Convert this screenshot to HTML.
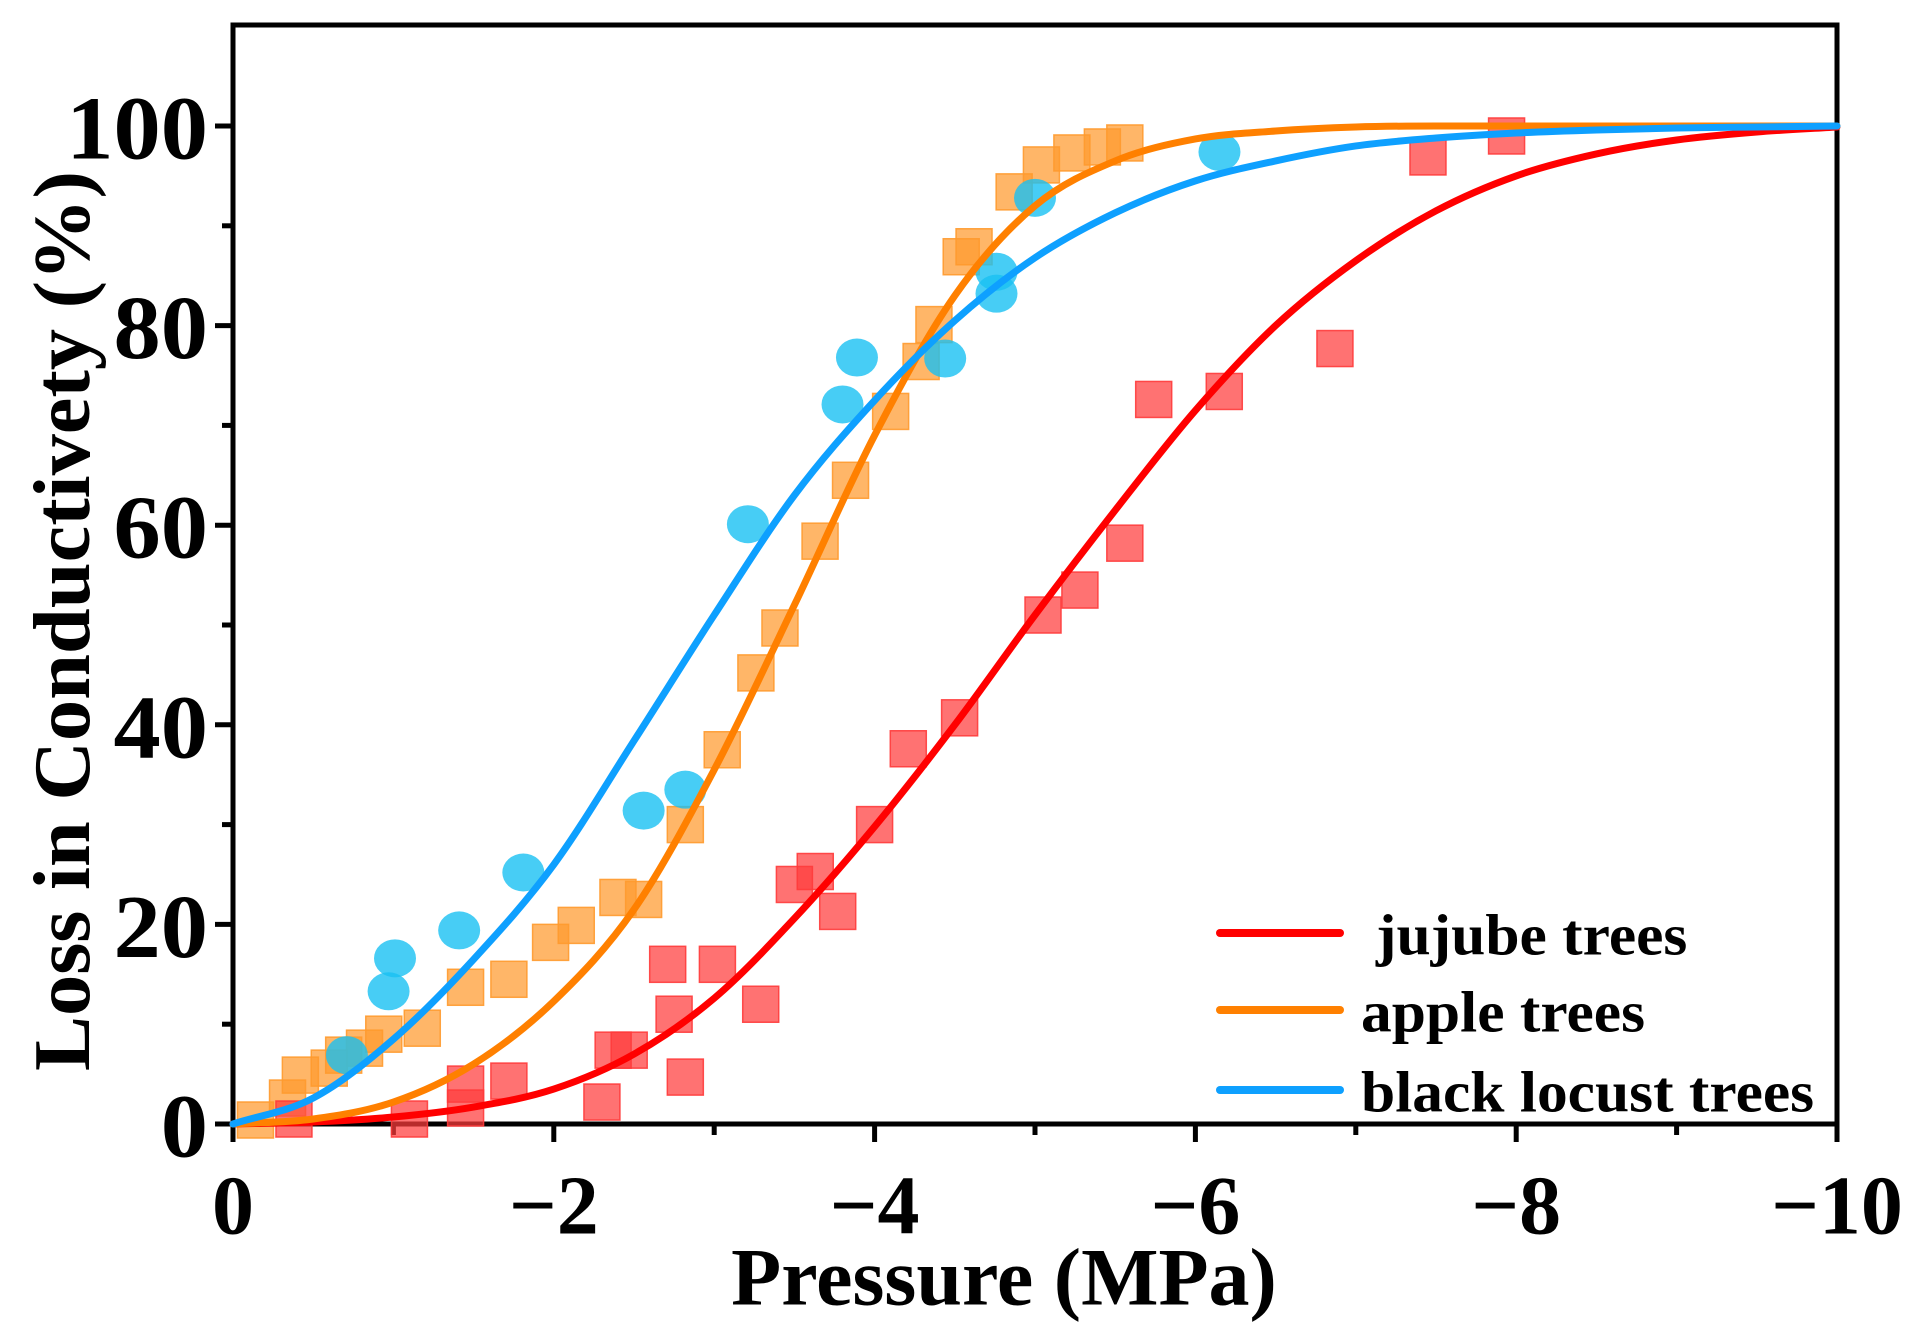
<!DOCTYPE html>
<html><head><meta charset="utf-8"><style>
html,body{margin:0;padding:0;background:#fff;}
svg{display:block;}
text{font-family:"Liberation Serif",serif;font-weight:bold;fill:#000;}
</style></head><body>
<svg id="chart" width="1920" height="1329" viewBox="0 0 1920 1329" xmlns="http://www.w3.org/2000/svg">
<g id="plot"></g>
</svg>
<script>
// ---- data ----
const xTicks = [0, -2, -4, -6, -8, -10];
const yTicks = [0, 20, 40, 60, 80, 100];
const seriesNames = ["jujube trees", "apple trees", "black locust trees"];

const jujubeX = [-0.38,-1.1,-1.45,-1.45,-1.72,-2.3,-2.37,-2.47,-2.71,-2.75,-2.82,-3.02,-3.29,-3.5,-3.63,-3.77,-4.0,-4.21,-4.53,-5.05,-5.28,-5.56,-5.74,-6.18,-6.87,-7.45,-7.94];
const jujubeY = [0.5,0.5,4,1.6,4.3,2.2,7.4,7.4,16,11,4.7,16,12,24,25.3,21.3,30,37.6,40.7,51,53.5,58.2,72.6,73.4,77.7,96.9,99];

const appleX = [-0.14,-0.34,-0.42,-0.6,-0.69,-0.82,-0.94,-1.18,-1.45,-1.72,-1.98,-2.14,-2.4,-2.56,-2.82,-3.05,-3.26,-3.41,-3.66,-3.85,-4.1,-4.29,-4.37,-4.54,-4.62,-4.87,-5.04,-5.23,-5.42,-5.56];
const appleY = [0.4,2.6,4.9,5.6,6.9,7.6,9,9.6,13.7,14.5,18.2,19.9,22.7,22.5,30,37.5,45.2,49.7,58.4,64.5,71.4,76.4,80.1,86.9,87.9,93.4,96.1,97.3,97.9,98.3];

const locustX = [-0.71,-0.97,-1.01,-1.41,-1.81,-2.56,-2.82,-3.21,-3.8,-3.89,-4.44,-4.76,-4.76,-5.0,-6.15];
const locustY = [6.9,13.3,16.6,19.4,25.2,31.4,33.5,60.1,72.1,76.8,76.7,83.2,85.4,92.8,97.4];

const fitX = [0,-0.5,-1,-1.5,-2,-2.5,-3,-3.5,-4,-4.5,-5,-5.5,-6,-6.5,-7,-7.5,-8,-8.5,-9,-9.5,-10];
const jujubeFit = [0,0.2,0.7,1.7,3.5,7,12.6,20.6,29.8,40,51,61.5,71.5,80,86.5,91.5,95,97.2,98.6,99.4,99.9];
const appleFit  = [0,0.5,2.2,6,12.3,21.5,35.5,52,69,83,92,96.5,98.7,99.5,99.9,100,100,100,100,100,100];
const locustFit = [0,2.6,8.5,16.5,26,38.4,51,63,72.5,80.5,86.8,91.3,94.5,96.5,98,98.8,99.3,99.6,99.8,99.9,100];

// ---- axes ----
const L=233, R=1837, T=25, B=1124, Y100=126;
const sx = v => L + (-v/10)*(R-L);
const sy = v => B - v/100*(B-Y100);
const NS="http://www.w3.org/2000/svg";
const plot=document.getElementById('plot');
function mk(tag, attrs, parent){const e=document.createElementNS(NS,tag);for(const k in attrs)e.setAttribute(k,attrs[k]);(parent||plot).appendChild(e);return e;}
function stretch(t,k){const w=t.getComputedTextLength();t.setAttribute('textLength',w*k);t.setAttribute('lengthAdjust','spacingAndGlyphs');}

// frame
const frame=mk('rect',{x:L,y:T,width:R-L,height:B-T,fill:'none',stroke:'#000','stroke-width':5});



// x ticks
for(let v=0; v>=-10; v--){
  const major = v%2===0;
  const t=mk('line',{x1:sx(v),x2:sx(v),y1:B,y2:B+(major?18:11),stroke:'#000','stroke-width':5});
  
  
}
xTicks.forEach(v=>{
  const t=mk('text',{x:sx(v),y:1206,'font-size':84,'text-anchor':'middle','dominant-baseline':'central'});
  t.textContent = v===0 ? '0' : '\u2212'+Math.abs(v);
  
  
});
// y ticks
for(let v=0; v<=100; v+=10){
  const major=v%20===0;
  const t=mk('line',{x1:L-(major?18:11),x2:L,y1:sy(v),y2:sy(v),stroke:'#000','stroke-width':5});
  
  
}
yTicks.forEach(v=>{
  const t=mk('text',{x:208,y:sy(v)+3,'font-size':90,'text-anchor':'end','dominant-baseline':'central'});
  t.textContent=v;
  
  
  stretch(t,1.05);
});
// titles
const xt=mk('text',{x:1004,y:1277,'font-size':82,'text-anchor':'middle','dominant-baseline':'central'});
xt.textContent='Pressure (MPa)';


const yt=mk('text',{x:0,y:0,'font-size':80,'text-anchor':'middle','dominant-baseline':'central',transform:'translate(63,621) rotate(-90)'});
yt.textContent='Loss in Conductivety (%)';


yt.setAttribute('textLength',900);
yt.setAttribute('lengthAdjust','spacingAndGlyphs');

// markers
function squares(xs,ys,color,name){
  const g=mk('g',{});
  
  
  xs.forEach((x,i)=>{
    const r=mk('rect',{x:sx(x)-18,y:sy(ys[i])-18,width:36,height:36,fill:color,'fill-opacity':0.72,stroke:color,'stroke-opacity':0.9,'stroke-width':1.5},g);
    
    
  });
}
function circles(xs,ys,color,name){
  const g=mk('g',{});
  
  
  xs.forEach((x,i)=>{
    const c=mk('ellipse',{cx:sx(x),cy:sy(ys[i]),rx:21,ry:19,fill:color,'fill-opacity':0.8},g);
    
    
  });
}
squares(appleX,appleY,'#ff9a2e','apple-points');
circles(locustX,locustY,'#19c0f2','black-locust-points');
squares(jujubeX,jujubeY,'#ff3b3b','jujube-points');

// fit curves: monotone cubic (Fritsch-Carlson) through read points
function curve(xs,ys,color,name){
  const px=xs.map(sx), py=ys.map(sy), n=px.length;
  const d=[],m=new Array(n);
  for(let i=0;i<n-1;i++) d.push((py[i+1]-py[i])/(px[i+1]-px[i]));
  m[0]=d[0]; m[n-1]=d[n-2];
  for(let i=1;i<n-1;i++) m[i]=(d[i-1]*d[i]<=0)?0:(d[i-1]+d[i])/2;
  for(let i=0;i<n-1;i++){
    if(d[i]===0){m[i]=0;m[i+1]=0;continue;}
    const a=m[i]/d[i], b=m[i+1]/d[i], s=a*a+b*b;
    if(s>9){const t=3/Math.sqrt(s);m[i]=t*a*d[i];m[i+1]=t*b*d[i];}
  }
  let p='M'+px[0]+','+py[0];
  for(let i=0;i<n-1;i++){
    const h=(px[i+1]-px[i])/3;
    p+=` C${px[i]+h},${py[i]+m[i]*h} ${px[i+1]-h},${py[i+1]-m[i+1]*h} ${px[i+1]},${py[i+1]}`;
  }
  const e=mk('path',{d:p,fill:'none',stroke:color,'stroke-width':7,'stroke-linecap':'round'});
  
  
}
curve(fitX,jujubeFit,'#ff0000','jujube-fit-line');
curve(fitX,appleFit,'#ff8000','apple-fit-line');
curve(fitX,locustFit,'#0ea0ff','black-locust-fit-line');

// legend
const legColors=['#ff0000','#ff8000','#0ea0ff'];
const legY=[933,1010,1090];
const lg=mk('g',{});


seriesNames.forEach((n,i)=>{
  const l=mk('line',{x1:1220,x2:1340,y1:legY[i],y2:legY[i],stroke:legColors[i],'stroke-width':8,'stroke-linecap':'round'},lg);
  
  
  const t=mk('text',{x:i===0?1376:1361,y:legY[i]+2,'font-size':58,'dominant-baseline':'central'},lg);
  t.textContent=n;
  
  
  stretch(t,1.06);
});
</script>
</body></html>
